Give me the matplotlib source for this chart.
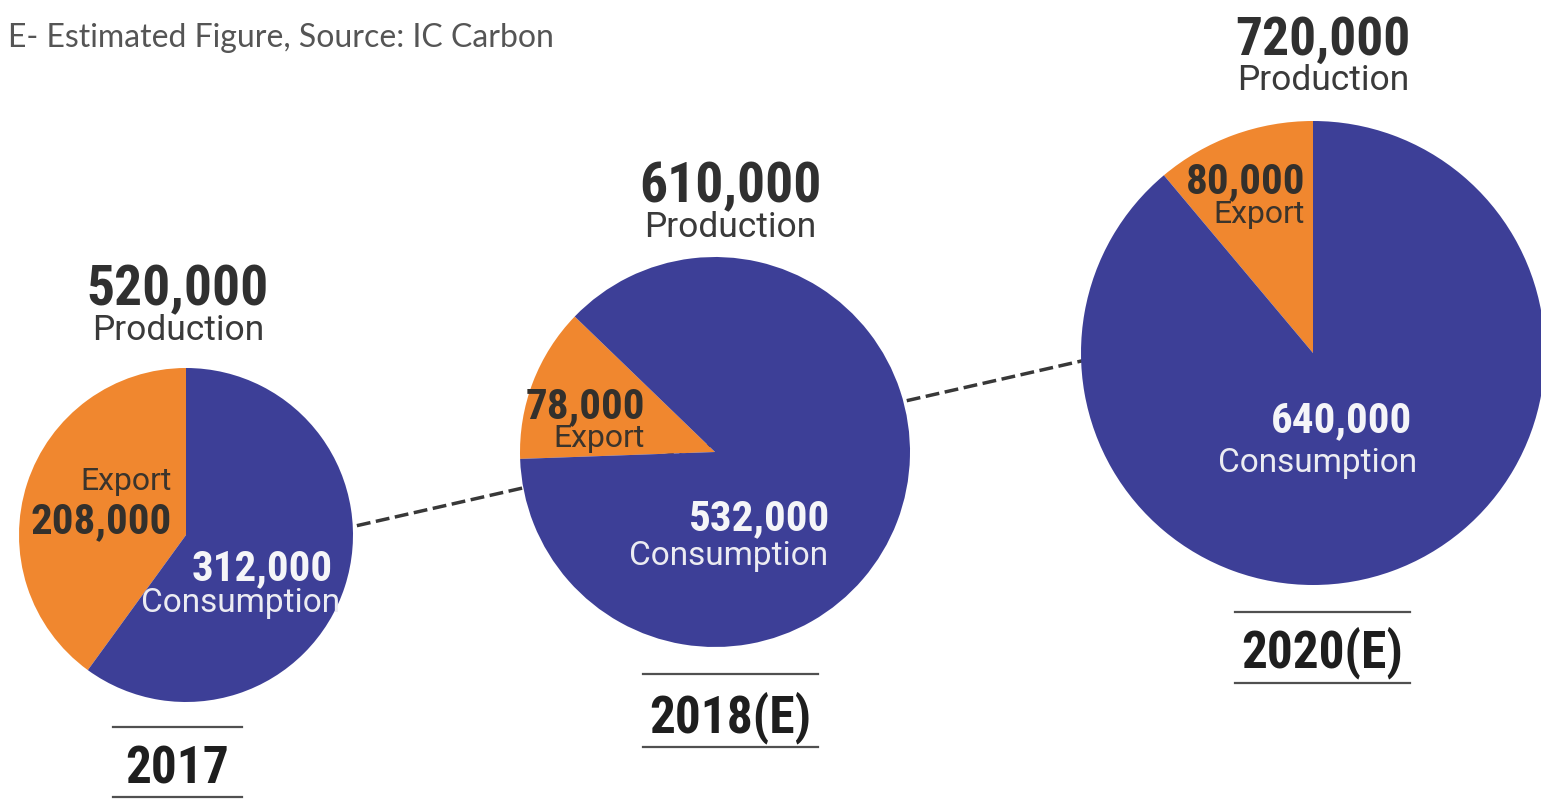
import matplotlib
matplotlib.use("Agg")
import matplotlib.pyplot as plt

# carbon black volumes (tonnes)
years = ['2017', '2018(E)', '2020(E)']
production = [520000, 610000, 720000]
export = [208000, 78000, 80000]
consumption = [312000, 532000, 640000]

W, H = 1541, 800
BLUE = '#3d3f97'
ORANGE = '#f0872f'

num_font = ['Liberation Sans Narrow', 'Roboto Condensed', 'DejaVu Sans']
lbl_font = ['Roboto', 'DejaVu Sans']

# layout in pixels (y measured from the top)
centers = [(186, 535), (715, 452), (1313, 353)]
radii = [167, 195, 232]
starts = [90, 136, 90]
prod_x = [178, 730, 1323]
prod_y = [305, 202, 55]
prod_size = [40, 40, 38.5]
exp_pos = [(172, 490, 533), (645, 447, 418), (1305, 223, 193)]
con_pos = [(333, 580, 340, 612), (830, 530, 828, 565), (1412, 432, 1417, 472)]
year_y = [783, 732, 667]
rule_y = [(727, 797), (674, 747), (612, 683)]
rule_x = [(113, 242), (643, 818), (1235, 1410)]

fig = plt.figure(figsize=(W / 100, H / 100), dpi=100)
ax = fig.add_axes([0, 0, 1, 1])


def py(y):
    return H - y


# dashed trend line behind the pies
ax.plot([300, 1150], [py(538.6), py(345.4)], color='#383838', lw=2.5,
        dashes=(4, 1.6), zorder=0.5, solid_capstyle='butt')

for i in range(3):
    cx, cy = centers[i]
    ax.pie([export[i], consumption[i]], colors=[ORANGE, BLUE],
           startangle=starts[i], counterclock=True,
           center=(cx, py(cy)), radius=radii[i],
           wedgeprops=dict(linewidth=0), frame=False)

    # production header
    ax.text(prod_x[i], py(prod_y[i]), f'{production[i]:,}', ha='center',
            va='baseline', fontsize=prod_size[i], fontweight='bold',
            family=num_font, color='#303030', zorder=5)
    ax.text(prod_x[i], py(prod_y[i] + 35), 'Production', ha='center',
            va='baseline', fontsize=25.5, family=lbl_font, color='#3a3a3a',
            zorder=5)

    # export labels
    ex, ey_lbl, ey_num = exp_pos[i]
    ax.text(ex, py(ey_num), f'{export[i]:,}', ha='right', va='baseline',
            fontsize=31, fontweight='bold', family=num_font,
            color='#33302c', zorder=5)
    ax.text(ex, py(ey_lbl), 'Export', ha='right', va='baseline',
            fontsize=23, family=lbl_font, color='#3b342c', zorder=5)

    # consumption labels
    nx, ny, lx, ly = con_pos[i]
    ax.text(nx, py(ny), f'{consumption[i]:,}', ha='right', va='baseline',
            fontsize=31, fontweight='bold', family=num_font,
            color='#f5f5f8', zorder=5)
    ax.text(lx, py(ly), 'Consumption', ha='right', va='baseline',
            fontsize=24, family=lbl_font, color='#ececf2', zorder=5)

    # year with rules above and below
    x0, x1 = rule_x[i]
    for ry in rule_y[i]:
        ax.plot([x0, x1], [py(ry), py(ry)], color='#505050', lw=1.6,
                zorder=5)
    ax.text((x0 + x1) / 2, py(year_y[i]), years[i], ha='center',
            va='baseline', fontsize=37, fontweight='bold', family=num_font,
            color='#1e1e1e', zorder=5)

ax.text(8, py(47), 'E- Estimated Figure, Source: IC Carbon', ha='left',
        va='baseline', fontsize=23, family=['Lato', 'DejaVu Sans'],
        color='#555555')

ax.set_xlim(0, W)
ax.set_ylim(0, H)
ax.set_aspect('equal')
ax.axis('off')

fig.savefig('out.png', dpi=100, facecolor='white')
